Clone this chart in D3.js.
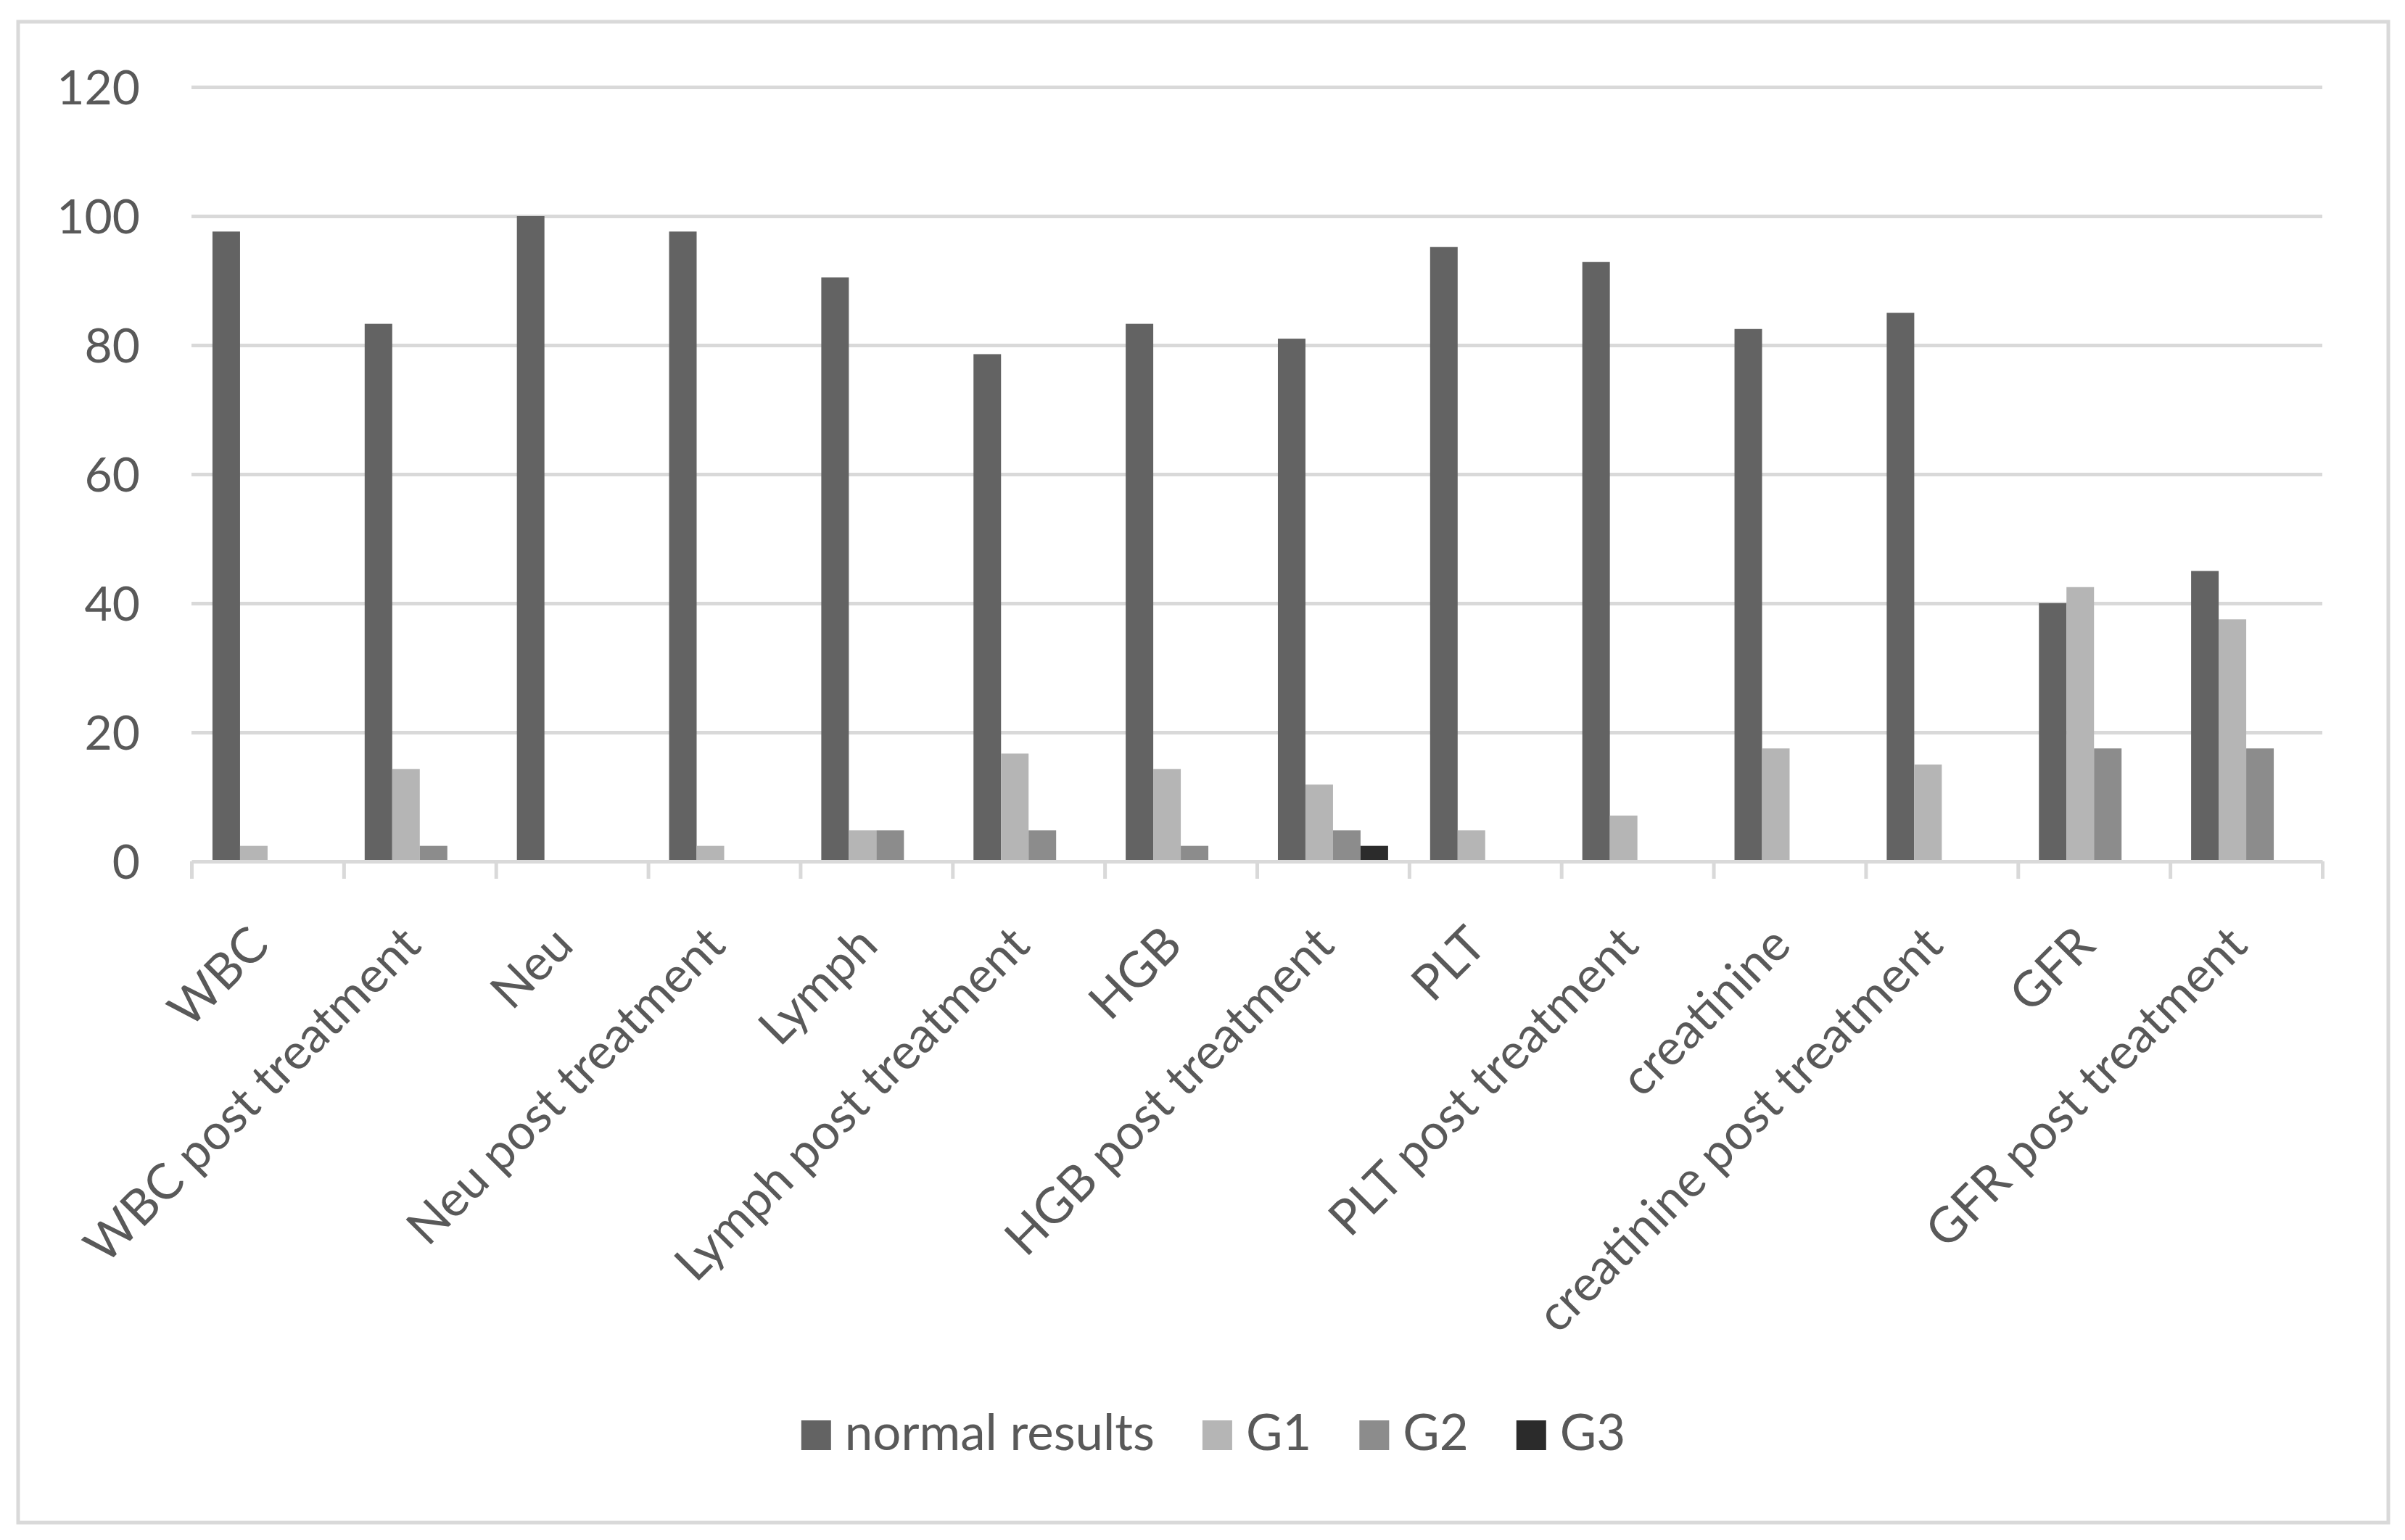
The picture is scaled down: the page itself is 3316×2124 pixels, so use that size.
<!DOCTYPE html>
<html>
<head>
<meta charset="utf-8">
<script src="https://cdn.jsdelivr.net/npm/d3@7"></script>
<style>
  body { margin: 0; background: #fff; }
  text { font-family: Lato, "Open Sans", sans-serif; fill: #595959; }
</style>
</head>
<body>
<svg id="chart" width="3316" height="2124"></svg>
<script>
const categories = ['WBC', 'WBC post treatment', 'Neu', 'Neu post treatment', 'Lymph',
  'Lymph post treatment', 'HGB', 'HGB post treatment', 'PLT', 'PLT post treatment',
  'creatinine', 'creatinine post treatment', 'GFR', 'GFR post treatment']
const seriesNames = ['normal results', 'G1', 'G2', 'G3']
const normalResults = [97.6, 83.3, 100, 97.6, 90.5, 78.6, 83.3, 81.0, 95.2, 92.9, 82.5, 85, 40, 45]
const g1 = [2.4, 14.3, 0, 2.4, 4.8, 16.7, 14.3, 11.9, 4.8, 7.1, 17.5, 15, 42.5, 37.5]
const g2 = [0, 2.4, 0, 0, 4.8, 4.8, 2.4, 4.8, 0, 0, 0, 0, 17.5, 17.5]
const g3 = [0, 0, 0, 0, 0, 0, 0, 2.4, 0, 0, 0, 0, 0, 0]
const yTicks = [0, 20, 40, 60, 80, 100, 120]

const seriesValues = [normalResults, g1, g2, g3]
const colors = ['#636363', '#b5b5b5', '#8c8c8c', '#2b2b2b']

const data = categories.map((c, i) => ({
  category: c,
  values: seriesNames.map((s, j) => ({ series: s, value: seriesValues[j][i] }))
}))

const svg = d3.select('#chart')
const plotLeft = 264, plotRight = 3202, plotTop = 120, plotBottom = 1188
const plotW = plotRight - plotLeft

// chart border
svg.append('rect')
  .attr('x', 25).attr('y', 30)
  .attr('width', 3268).attr('height', 2070)
  .attr('fill', '#fff')
  .attr('stroke', '#d9d9d9')
  .attr('stroke-width', 5)

const x0 = d3.scaleBand()
  .domain(categories)
  .range([plotLeft, plotRight])
  .paddingInner(0.276)
  .paddingOuter(0.138)

const x1 = d3.scaleBand()
  .domain(seriesNames)
  .range([0, x0.bandwidth()])

const y = d3.scaleLinear()
  .domain([0, 120])
  .range([plotBottom, plotTop])

const color = d3.scaleOrdinal().domain(seriesNames).range(colors)

// gridlines + y labels
const yAxis = svg.append('g')
  .attr('transform', `translate(${plotLeft}, 0)`)
  .call(d3.axisLeft(y).tickValues(yTicks).tickSizeInner(-plotW).tickSizeOuter(0).tickPadding(71))
yAxis.select('.domain').remove()
yAxis.selectAll('.tick line')
  .attr('stroke', '#d9d9d9')
  .attr('stroke-width', 5)
  .filter(d => d === 0).remove()
yAxis.selectAll('.tick text')
  .attr('font-size', 66)
  .attr('dy', '0.36em')
  .attr('fill', '#595959')

// bars
svg.append('g')
  .selectAll('g')
  .data(data)
  .enter().append('g')
  .attr('transform', d => `translate(${x0(d.category)}, 0)`)
  .selectAll('rect')
  .data(d => d.values)
  .enter().append('rect')
  .attr('x', d => x1(d.series))
  .attr('y', d => y(d.value))
  .attr('width', x1.bandwidth())
  .attr('height', d => y(0) - y(d.value))
  .attr('fill', d => color(d.series))

// category axis line and ticks at the boundaries
const xb = d3.scaleLinear().domain([0, categories.length]).range([plotLeft, plotRight])
const xAxis = svg.append('g')
  .attr('transform', `translate(0, ${plotBottom})`)
  .call(d3.axisBottom(xb).ticks(categories.length).tickSizeInner(24).tickSizeOuter(0).tickFormat(''))
xAxis.select('.domain').attr('stroke', '#d9d9d9').attr('stroke-width', 5)
xAxis.selectAll('.tick line').attr('stroke', '#d9d9d9').attr('stroke-width', 5)

// rotated category labels
svg.append('g')
  .selectAll('text')
  .data(categories)
  .enter().append('text')
  .attr('transform', d => `translate(${x0(d) + x0.bandwidth() / 2 + 5}, ${plotBottom + 119}) rotate(-45)`)
  .attr('text-anchor', 'end')
  .attr('font-size', 68)
  .text(d => d)

// legend
const legend = svg.append('g')
let lx = 0
seriesNames.forEach((s, i) => {
  const item = legend.append('g').attr('transform', `translate(${lx}, 0)`)
  item.append('rect')
    .attr('x', 0).attr('y', -41)
    .attr('width', 41).attr('height', 41)
    .attr('fill', colors[i])
  const t = item.append('text')
    .attr('x', 60).attr('y', 0)
    .attr('font-size', 69)
    .text(s)
  lx += 60 + t.node().getComputedTextLength() + 66
})
const legendW = lx - 66
legend.attr('transform', `translate(${1673 - legendW / 2}, 2000)`)
</script>
</body>
</html>
